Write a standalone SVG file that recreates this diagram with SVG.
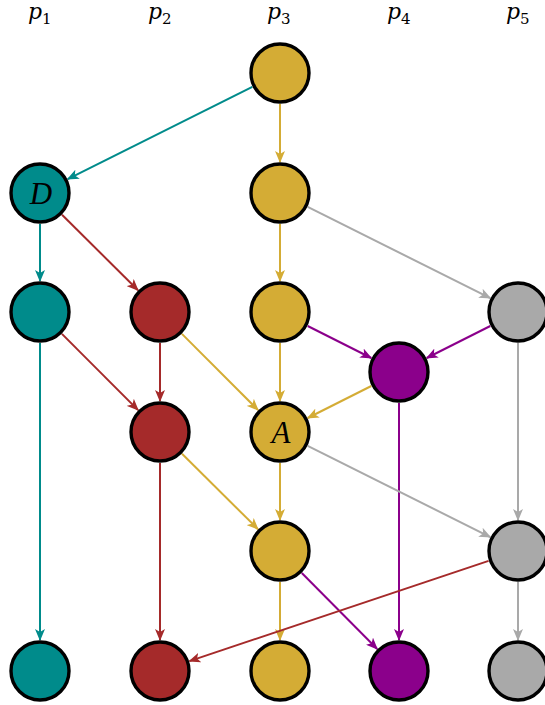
<svg xmlns="http://www.w3.org/2000/svg" width="545" height="705" viewBox="0 0 545 705">
<style>
.n{stroke:#000;stroke-width:3.4}
.teal{fill:#008B8B}.red{fill:#A52A2A}.gold{fill:#D4AC35}.purple{fill:#8B008B}.gray{fill:#A9A9A9}
.e{fill:none;stroke-width:2}
.et{stroke:#008B8B}.er{stroke:#A52A2A}.eg{stroke:#D4AC35}.ep{stroke:#8B008B}.ey{stroke:#A9A9A9}
.lab{font-family:"DejaVu Serif","Liberation Serif",serif;font-style:italic;font-size:22px;fill:#000}
.sub{font-style:normal;font-size:15px}
.nl{font-family:"Liberation Serif","DejaVu Serif",serif;font-style:italic;font-size:31px;fill:#000;text-anchor:middle}
</style>
<defs>
<marker id="mt" viewBox="0 0 12 10" refX="11" refY="5" markerWidth="12" markerHeight="10" markerUnits="userSpaceOnUse" orient="auto"><path d="M0,0 L12,5 L0,10 L3,5 z" fill="#008B8B"/></marker>
<marker id="mr" viewBox="0 0 12 10" refX="11" refY="5" markerWidth="12" markerHeight="10" markerUnits="userSpaceOnUse" orient="auto"><path d="M0,0 L12,5 L0,10 L3,5 z" fill="#A52A2A"/></marker>
<marker id="mg" viewBox="0 0 12 10" refX="11" refY="5" markerWidth="12" markerHeight="10" markerUnits="userSpaceOnUse" orient="auto"><path d="M0,0 L12,5 L0,10 L3,5 z" fill="#D4AC35"/></marker>
<marker id="mp" viewBox="0 0 12 10" refX="11" refY="5" markerWidth="12" markerHeight="10" markerUnits="userSpaceOnUse" orient="auto"><path d="M0,0 L12,5 L0,10 L3,5 z" fill="#8B008B"/></marker>
<marker id="my" viewBox="0 0 12 10" refX="11" refY="5" markerWidth="12" markerHeight="10" markerUnits="userSpaceOnUse" orient="auto"><path d="M0,0 L12,5 L0,10 L3,5 z" fill="#A9A9A9"/></marker>
</defs>
<g id="labels">
<text class="lab" x="28" y="19">p<tspan class="sub" dy="5">1</tspan></text>
<text class="lab" x="148" y="19">p<tspan class="sub" dy="5">2</tspan></text>
<text class="lab" x="267" y="19">p<tspan class="sub" dy="5">3</tspan></text>
<text class="lab" x="387" y="19">p<tspan class="sub" dy="5">4</tspan></text>
<text class="lab" x="506" y="19">p<tspan class="sub" dy="5">5</tspan></text>
</g>
<g id="connectors">
<line class="e et" x1="252.3" y1="86.9" x2="67.7" y2="179.1" marker-end="url(#mt)"/>
<line class="e eg" x1="280" y1="104" x2="280" y2="162" marker-end="url(#mg)"/>
<line class="e et" x1="40" y1="224" x2="40" y2="281" marker-end="url(#mt)"/>
<line class="e er" x1="62" y1="214.8" x2="138" y2="290.2" marker-end="url(#mr)"/>
<line class="e eg" x1="280" y1="224" x2="280" y2="281" marker-end="url(#mg)"/>
<line class="e ey" x1="307.7" y1="206.9" x2="490.3" y2="298.1" marker-end="url(#my)"/>
<line class="e et" x1="40" y1="343" x2="40" y2="640" marker-end="url(#mt)"/>
<line class="e er" x1="61.9" y1="333.9" x2="138.1" y2="410.1" marker-end="url(#mr)"/>
<line class="e er" x1="160" y1="343" x2="160" y2="401" marker-end="url(#mr)"/>
<line class="e eg" x1="181.9" y1="333.9" x2="258.1" y2="410.1" marker-end="url(#mg)"/>
<line class="e eg" x1="280" y1="343" x2="280" y2="401" marker-end="url(#mg)"/>
<line class="e ep" x1="307.7" y1="326" x2="371.3" y2="358" marker-end="url(#mp)"/>
<line class="e ep" x1="490.3" y1="326" x2="426.7" y2="358" marker-end="url(#mp)"/>
<line class="e ey" x1="518" y1="343" x2="518" y2="520" marker-end="url(#my)"/>
<line class="e eg" x1="371.3" y1="386" x2="307.7" y2="418" marker-end="url(#mg)"/>
<line class="e ep" x1="399" y1="403" x2="399" y2="640" marker-end="url(#mp)"/>
<line class="e er" x1="160" y1="463" x2="160" y2="640" marker-end="url(#mr)"/>
<line class="e eg" x1="182" y1="453.8" x2="258" y2="529.2" marker-end="url(#mg)"/>
<line class="e eg" x1="280" y1="463" x2="280" y2="520" marker-end="url(#mg)"/>
<line class="e ey" x1="307.7" y1="445.9" x2="490.3" y2="537.1" marker-end="url(#my)"/>
<line class="e eg" x1="280" y1="582" x2="280" y2="640" marker-end="url(#mg)"/>
<line class="e ep" x1="301.8" y1="573" x2="377.2" y2="649" marker-end="url(#mp)"/>
<line class="e er" x1="488.6" y1="560.9" x2="189.4" y2="661.1" marker-end="url(#mr)"/>
<line class="e ey" x1="518" y1="582" x2="518" y2="640" marker-end="url(#my)"/>
</g>
<g id="n-top"><circle class="n gold" cx="280" cy="73" r="29"/></g>
<g id="n-D"><circle class="n teal" cx="40" cy="193" r="29"/><text class="nl" x="41" y="204">D</text></g>
<g id="n-g2"><circle class="n gold" cx="280" cy="193" r="29"/></g>
<g id="n-t3"><circle class="n teal" cx="40" cy="312" r="29"/></g>
<g id="n-r3"><circle class="n red" cx="160" cy="312" r="29"/></g>
<g id="n-g3"><circle class="n gold" cx="280" cy="312" r="29"/></g>
<g id="n-y3"><circle class="n gray" cx="518" cy="312" r="29"/></g>
<g id="n-p4"><circle class="n purple" cx="399" cy="372" r="29"/></g>
<g id="n-r5"><circle class="n red" cx="160" cy="432" r="29"/></g>
<g id="n-A"><circle class="n gold" cx="280" cy="432" r="29"/><text class="nl" x="281" y="443">A</text></g>
<g id="n-g6"><circle class="n gold" cx="280" cy="551" r="29"/></g>
<g id="n-y6"><circle class="n gray" cx="518" cy="551" r="29"/></g>
<g id="n-t7"><circle class="n teal" cx="40" cy="671" r="29"/></g>
<g id="n-r7"><circle class="n red" cx="160" cy="671" r="29"/></g>
<g id="n-g7"><circle class="n gold" cx="280" cy="671" r="29"/></g>
<g id="n-p7"><circle class="n purple" cx="399" cy="671" r="29"/></g>
<g id="n-y7"><circle class="n gray" cx="518" cy="671" r="29"/></g>
</svg>
